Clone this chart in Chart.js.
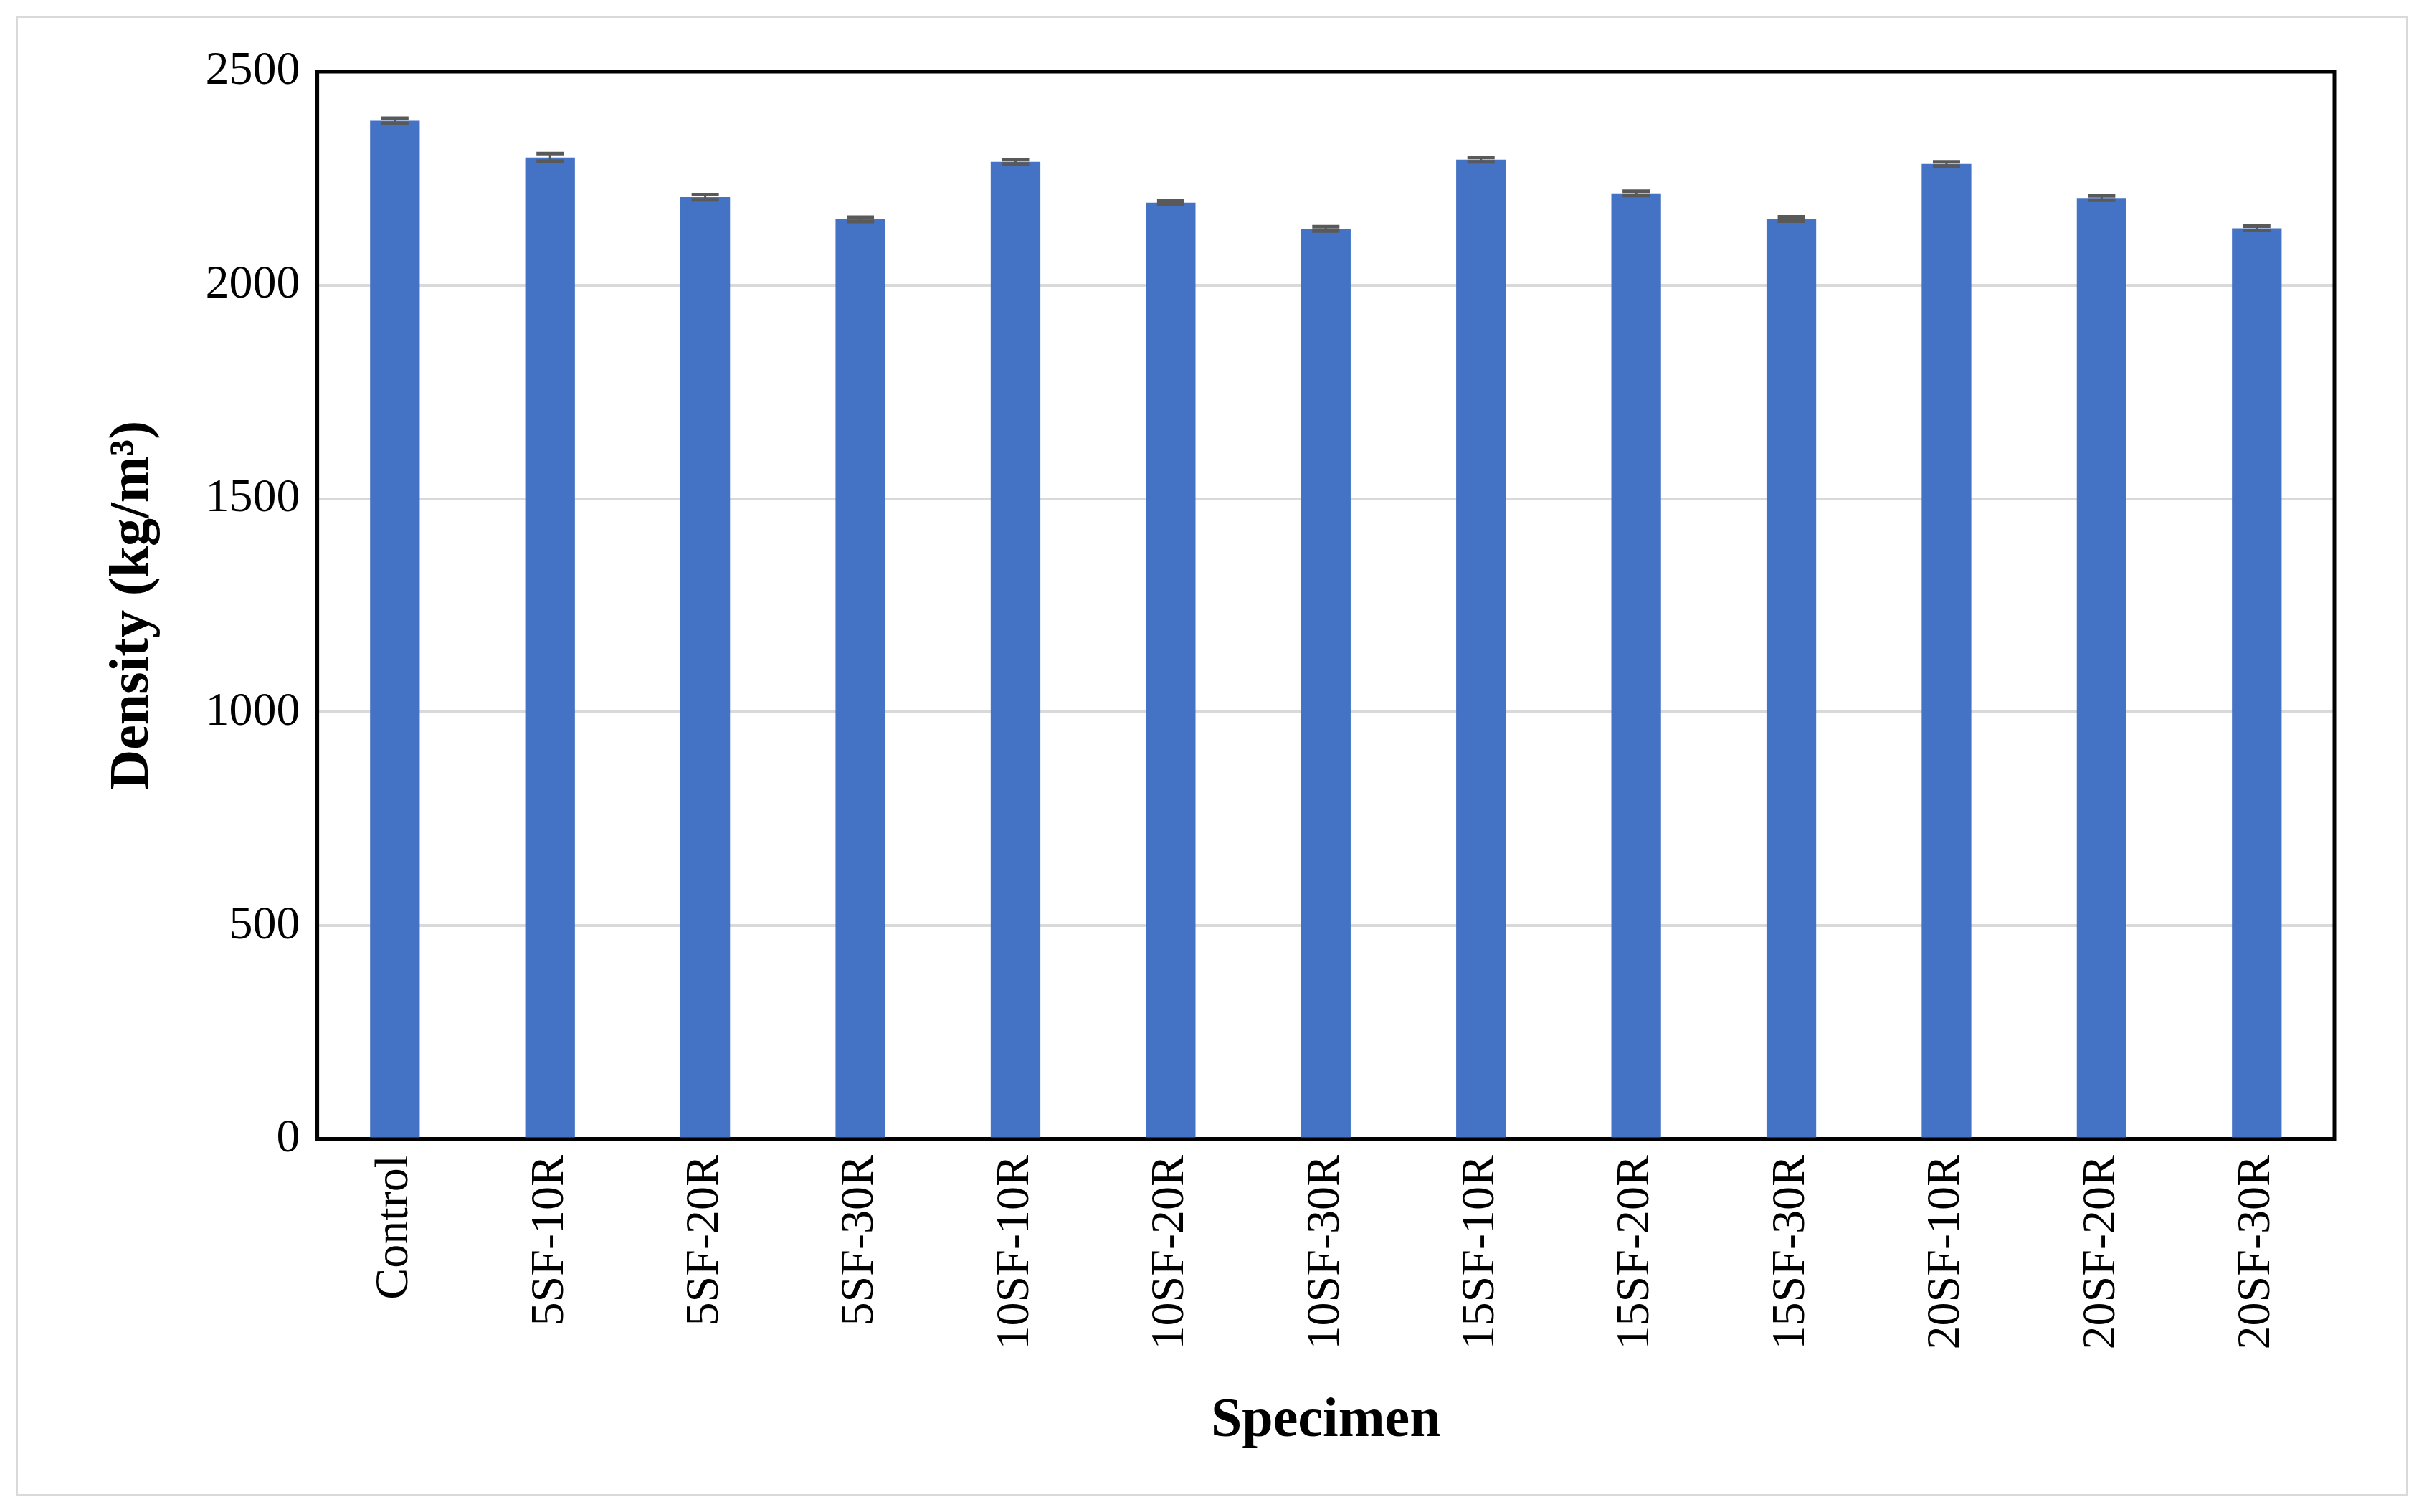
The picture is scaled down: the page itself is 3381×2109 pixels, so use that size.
<!DOCTYPE html>
<html><head><meta charset="utf-8">
<script src="https://cdn.jsdelivr.net/npm/chart.js@4"></script>
<style>html,body{margin:0;padding:0;background:#fff}#wrap{position:absolute;left:22px;top:22px;width:3337px;height:2065px;border:3px solid #d9d9d9;box-sizing:border-box}</style>
</head><body><div id="wrap"><canvas id="c"></canvas></div>
<script>
const categories=["Control","5SF-10R","5SF-20R","5SF-30R","10SF-10R","10SF-20R","10SF-30R","15SF-10R","15SF-20R","15SF-30R","20SF-10R","20SF-20R","20SF-30R"];
const density=[2385,2299,2206,2154,2289,2193,2132,2294,2215,2155,2284,2204,2133];
const errors=[6,9,6,5,5,4,5,5,5,5,5,5,5];
const yTicks=[0,500,1000,1500,2000,2500];
const errPlugin={id:'err',afterDatasetsDraw(ch){const c=ch.ctx,x=ch.scales.x,y=ch.scales.y;c.save();c.strokeStyle='#595959';
 density.forEach((v,i)=>{const px=x.getPixelForValue(i);const t=y.getPixelForValue(v+errors[i]),b=y.getPixelForValue(v-errors[i]);
 c.lineWidth=3;c.beginPath();c.moveTo(px,t);c.lineTo(px,b);c.stroke();c.lineWidth=5;c.beginPath();c.moveTo(px-19,t);c.lineTo(px+19,t);c.moveTo(px-19,b);c.lineTo(px+19,b);c.stroke();});
 const a=ch.chartArea;c.strokeStyle='#000';c.lineWidth=5;c.strokeRect(a.left,a.top,a.right-a.left,a.bottom-a.top);c.restore();}};
new Chart(document.getElementById('c'),{type:'bar',
data:{labels:categories,datasets:[{data:density,backgroundColor:'#4472c4',barPercentage:0.32,categoryPercentage:1}]},
options:{responsive:true,maintainAspectRatio:false,animation:false,devicePixelRatio:1,
layout:{padding:{left:110,right:100,top:75,bottom:50}},
plugins:{legend:{display:false},tooltip:{enabled:false}},
scales:{
x:{grid:{display:false},border:{color:'#000',width:5},ticks:{color:'#000',font:{family:'Liberation Serif',size:66},maxRotation:90,minRotation:90,padding:14},
 title:{display:true,text:'Specimen',color:'#000',font:{family:'Liberation Serif',size:78,weight:'bold'},padding:{top:40}}},
y:{min:0,max:2500,afterBuildTicks:s=>{s.ticks=yTicks.map(v=>({value:v}))},grid:{color:'#d9d9d9',lineWidth:4,drawTicks:false},border:{color:'#000',width:5},
 ticks:{color:'#000',font:{family:'Liberation Serif',size:66},padding:24,callback:v=>String(v)},
 title:{display:true,text:'Density (kg/m³)',color:'#000',font:{family:'Liberation Serif',size:78,weight:'bold'},padding:{bottom:30}}}}},
plugins:[errPlugin]});
</script></body></html>
